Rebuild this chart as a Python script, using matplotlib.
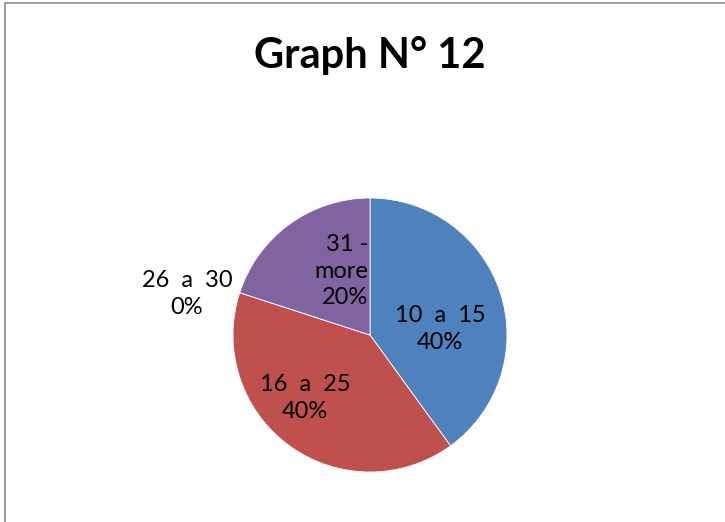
import matplotlib.pyplot as plt
from matplotlib.patches import Rectangle

labels = ['10  a  15', '16  a  25', '26  a  30', '31 -\nmore']
values = [40, 40, 0, 20]
colors = ['#4F81BD', '#C0504D', '#9BBB59', '#8064A2']

W, H = 725, 522
fig = plt.figure(figsize=(W / 100, H / 100), dpi=100)
plt.rcParams['font.family'] = ['Lato', 'DejaVu Sans']

# chart frame (only left and top edges fall inside the image)
fig.patches.append(Rectangle((5 / W, -0.1), 1.2, (H - 3) / H + 0.1,
                             transform=fig.transFigure, fill=False,
                             edgecolor='#8c8c8c', linewidth=1.2))

fig.text(370 / W, 1 - 56 / H, 'Graph N° 12', ha='center', va='center',
         fontsize=30, fontweight='bold')

cx, cy, r = 370, 335, 137
ax = fig.add_axes([(cx - r) / W, (H - cy - r) / H, 2 * r / W, 2 * r / H])
ax.pie(values, colors=colors, startangle=90, counterclock=False,
       wedgeprops=dict(edgecolor='white', linewidth=0.6))
ax.set_xlim(-1, 1)
ax.set_ylim(-1, 1)
ax.set_aspect('equal')
ax.axis('off')

# data label positions, pixel offsets from pie centre
pos = [(70, -6, 'center'), (-65, 63, 'center'), (-183, -41, 'center'), (-2, -64, 'right')]
for lab, v, (dx, dy, ha) in zip(labels, values, pos):
    fig.text((cx + dx) / W, 1 - (cy + dy) / H, f'{lab}\n{v}%', ha=ha, va='center',
             fontsize=17, linespacing=1.35)

fig.savefig('out.png', dpi=100)
